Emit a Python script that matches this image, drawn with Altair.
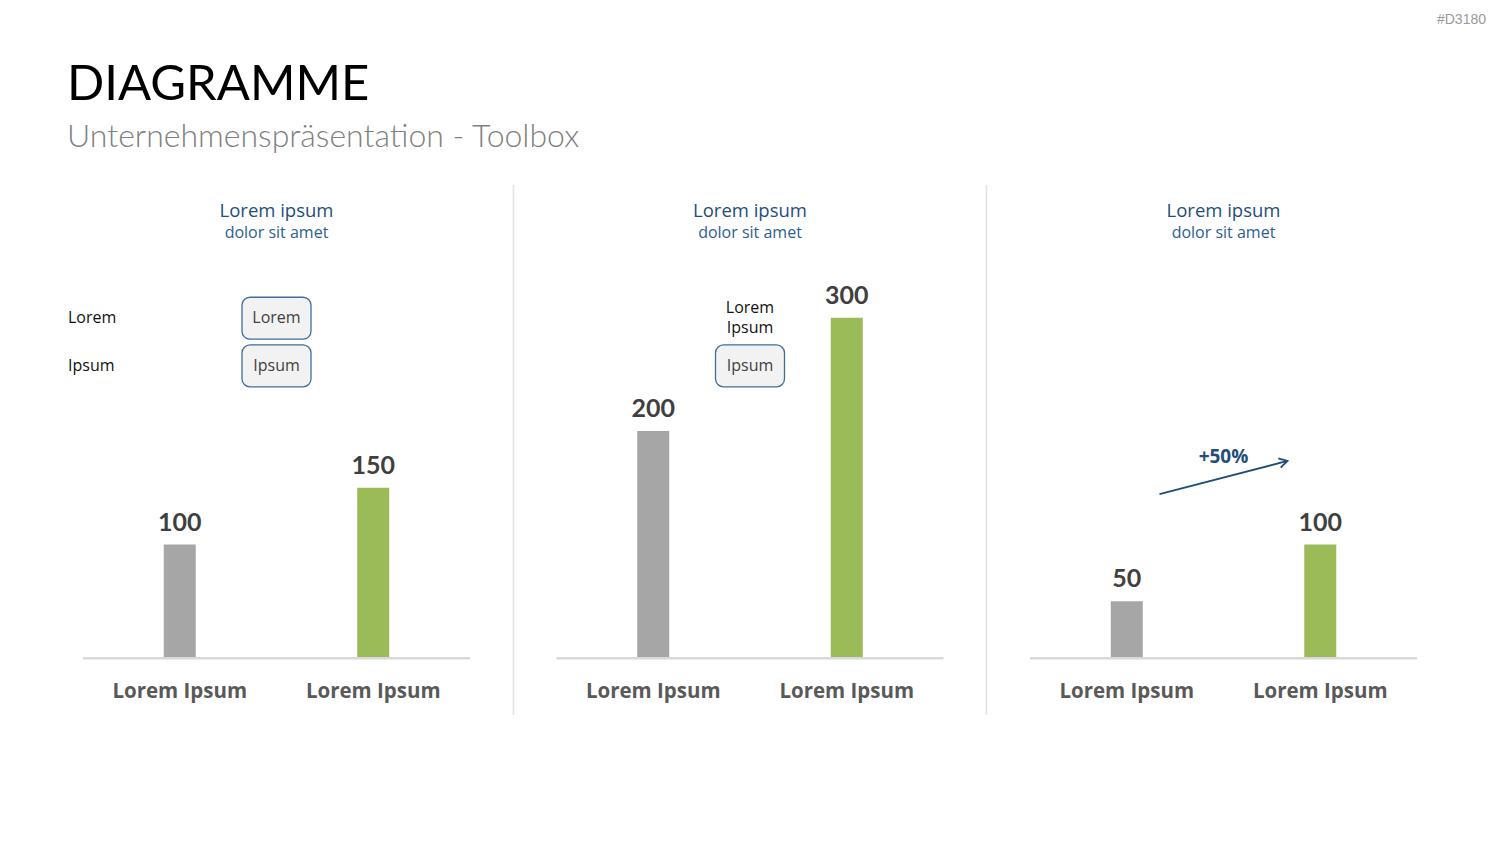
import altair as alt
import pandas as pd

# ---- data ----
panels = ["A", "B", "C"]
panel_titles = ["Lorem ipsum", "Lorem ipsum", "Lorem ipsum"]
panel_subtitles = ["dolor sit amet", "dolor sit amet", "dolor sit amet"]
series = ["grau", "gruen"]
category_labels = ["Lorem Ipsum", "Lorem Ipsum"]
values_gray = [100, 200, 50]
values_green = [150, 300, 100]
bar_colors = ["#A6A6A6", "#9BBB59"]

rows = []
for i, p in enumerate(panels):
    rows.append({"panel": p, "series": "grau", "value": values_gray[i], "label": category_labels[0]})
    rows.append({"panel": p, "series": "gruen", "value": values_green[i], "label": category_labels[1]})
bars_df = pd.DataFrame(rows)
panels_df = pd.DataFrame({"panel": panels, "title": panel_titles, "sub": panel_subtitles})

# annotations (y in data units of the value axis)
left_labels = pd.DataFrame({"panel": ["A", "A"], "y": [300, 257], "text": ["Lorem", "Ipsum"]})
boxes = pd.DataFrame({
    "panel": ["A", "A", "B"],
    "y1": [318, 276, 276],
    "y2": [281, 239, 239],
    "ym": [299.5, 257.5, 257.5],
    "text": ["Lorem", "Ipsum", "Ipsum"],
})
note_b = pd.DataFrame({"panel": ["B"], "y": [300], "text": ["Lorem\nIpsum"]})
growth = pd.DataFrame({"panel": ["C"], "ymid": [159.1], "ytext": [177], "text": ["+50%"]})

FONT = "Open Sans"
TFONT = "Lato"
BLUE = "#1F4E79"

x_scale = alt.Scale(domain=panels, paddingInner=0.18268, paddingOuter=0.17529)
xo_scale = alt.Scale(domain=series, paddingInner=0.8346, paddingOuter=0.4173)
y_scale = alt.Scale(domain=[0, 580], nice=False, zero=False)

X = alt.X("panel:N", scale=x_scale, axis=None)
XO = alt.XOffset("series:N", scale=xo_scale)

base = alt.Chart(bars_df)

bars = base.mark_bar().encode(
    x=X, xOffset=XO,
    y=alt.Y("value:Q", scale=y_scale, axis=None),
    color=alt.Color("series:N", scale=alt.Scale(domain=series, range=bar_colors), legend=None),
)

baseline = alt.Chart(panels_df).mark_rect(color="#D9D9D9").encode(
    x=X, y=alt.datum(0.8), y2=alt.datum(-1.4)
)

bar_labels = base.mark_text(font=TFONT, fontWeight="bold", fontSize=25, color="#3F3F3F",
                            baseline="alphabetic", dy=-14).encode(
    x=X, xOffset=XO, y=alt.Y("value:Q"), text=alt.Text("value:Q")
)

cat_labels = base.mark_text(font=FONT, fontWeight="bold", fontSize=20.5, color="#595959",
                            baseline="middle").encode(
    x=X, xOffset=XO, y=alt.datum(-30), text="label:N"
)

titles = alt.Chart(panels_df).mark_text(font=FONT, fontSize=18.5, color=BLUE, baseline="middle").encode(
    x=X, y=alt.value(211), text="title:N"
)
subs = alt.Chart(panels_df).mark_text(font=FONT, fontSize=16, color="#2E6090", baseline="middle").encode(
    x=X, y=alt.value(233), text="sub:N"
)

div1 = alt.Chart(panels_df).mark_rule(color="#E3E3E3", strokeWidth=1.2).encode(
    x=alt.value(513.5), y=alt.value(185), y2=alt.value(715)
)
div2 = alt.Chart(panels_df).mark_rule(color="#E3E3E3", strokeWidth=1.2).encode(
    x=alt.value(986.5), y=alt.value(185), y2=alt.value(715)
)

lbl_left = alt.Chart(left_labels).mark_text(font=FONT, fontSize=16, color="#111111", align="left",
                                            baseline="middle", dx=-15).encode(
    x=alt.X("panel:N", scale=x_scale, axis=None, bandPosition=0), y=alt.Y("y:Q"), text="text:N"
)

box_marks = alt.Chart(boxes).mark_bar(width=69, cornerRadius=8, fill="#F2F2F2", stroke="#3F6E96",
                                      strokeWidth=1.3).encode(
    x=X, y=alt.Y("y1:Q"), y2="y2:Q"
)
box_text = alt.Chart(boxes).mark_text(font=FONT, fontSize=16, color="#404040", baseline="middle").encode(
    x=X, y=alt.Y("ym:Q"), text="text:N"
)

note_text = alt.Chart(note_b).mark_text(font=FONT, fontSize=16, color="#111111", baseline="middle",
                                        lineHeight=20, dy=-10, lineBreak="\n").encode(
    x=X, y=alt.Y("y:Q"), text="text:N"
)

ARROW = "M -1 0.258 L 1 -0.258 M 0.8555 -0.2982 L 1 -0.258 L 0.893 -0.153"
arrow = alt.Chart(growth).mark_point(shape=ARROW, filled=False, size=16384, color=BLUE,
                                     strokeWidth=1.8, opacity=1).encode(
    x=X, y=alt.Y("ymid:Q")
)
growth_text = alt.Chart(growth).mark_text(font=FONT, fontWeight="bold", fontSize=19, color=BLUE,
                                          baseline="middle").encode(
    x=X, y=alt.Y("ytext:Q"), text="text:N"
)

head_df = pd.DataFrame({"t": ["DIAGRAMME"], "s": ["Unternehmenspräsentation - Toolbox"], "c": ["#D3180"]})
main_title = alt.Chart(head_df).mark_text(font=TFONT, fontSize=49, color="#000000", align="left",
                                          baseline="alphabetic").encode(
    x=alt.value(67), y=alt.value(100), text="t:N"
)
sub_title = alt.Chart(head_df).mark_text(font=TFONT, fontSize=32, fontWeight=300, color="#808080",
                                         align="left", baseline="alphabetic").encode(
    x=alt.value(67), y=alt.value(147), text="s:N"
)
code = alt.Chart(head_df).mark_text(font="Liberation Sans", fontSize=14, color="#9A9A9A", align="right",
                                    baseline="middle").encode(
    x=alt.value(1486), y=alt.value(20), text="c:N"
)

chart = alt.layer(
    bars, baseline, bar_labels, cat_labels, titles, subs, div1, div2,
    lbl_left, box_marks, box_text, note_text, arrow, growth_text,
    main_title, sub_title, code,
).properties(
    width=1500, height=658,
    padding={"left": 0, "top": 0, "right": 0, "bottom": 186},
    autosize=alt.AutoSizeParams(type="none"),
    background="#FFFFFF",
).configure_view(stroke=None)

chart.save("out.html", embed_options={"renderer": "svg", "actions": False})
